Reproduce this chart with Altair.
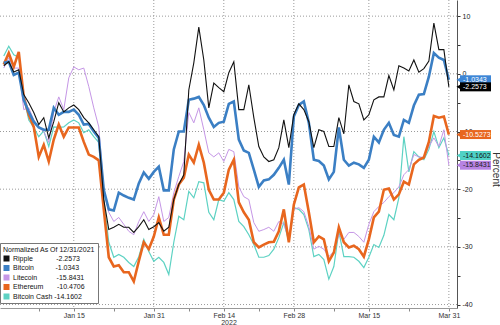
import altair as alt
import pandas as pd

# ---------------- data ----------------
dates = [d.strftime("%Y-%m-%dT00:00:00Z") for d in pd.date_range("2022-01-01", "2022-03-31", freq="D")]

series_names = ["Ripple", "Bitcoin", "Litecoin", "Ethereum", "Bitcoin Cash"]
series_colors = ["#111111", "#3b7fc4", "#c596e6", "#e8661e", "#5dd2c3"]
series_widths = [1.1, 2.6, 1.0, 2.6, 1.2]
legend_values = ["-2.2573", "-1.0343", "-15.8431", "-10.4706", "-14.1602"]
legend_gaps = [12, 11, 10, 7, 1]

ripple = [1.4, 2.1, 0.3, 0.7, -3.6, -5.0, -6.7, -8.8, -7.6, -11.1,
          -8.3, -5.0, -6.6, -5.9, -5.4, -6.2, -7.6, -8.5, -9.7, -10.9,
          -21.8, -27.0, -26.6, -26.1, -26.6, -26.6, -27.5, -26.5, -25.3, -27.0,
          -26.5, -25.8, -27.3, -26.6, -21.8, -19.2, -17.5, -2.8, 1.9, 8.1,
          2.4, -5.9, -1.6, -2.4, -3.1, 0.2, 2.1, -6.2, -6.2, -1.9,
          -7.6, -12.6, -14.4, -15.2, -14.9, -12.8, -8.0, -12.8, -7.1, -5.2,
          -6.2, -8.3, -12.8, -9.7, -10.0, -12.6, -12.6, -7.6, -10.4, -1.9,
          -4.8, -5.2, -8.0, -7.1, -4.5, -4.0, -4.0, -0.3, -2.8, 1.4,
          1.0, 0.5, 2.4, 0.3, 0.9, 2.2, 8.8, 4.2, 4.2, -2.2573]
bitcoin = [1.9, 2.1, -0.2, 0.2, -4.5, -6.6, -8.3, -9.3, -9.7, -9.7,
           -5.9, -7.1, -6.6, -6.6, -6.2, -7.1, -8.8, -8.7, -10.0, -11.1,
           -20.1, -23.5, -23.7, -20.6, -21.1, -21.5, -21.8, -19.0, -17.1, -18.2,
           -17.0, -16.1, -20.2, -20.2, -13.1, -10.0, -10.0, -4.5, -4.3, -4.0,
           -5.4, -7.6, -9.2, -8.5, -8.3, -5.2, -4.8, -11.4, -13.3, -13.7,
           -16.6, -19.6, -18.5, -18.3, -17.5, -16.3, -14.9, -19.2, -7.4, -5.4,
           -4.8, -8.5, -14.9, -15.1, -15.9, -18.3, -17.0, -9.3, -14.9, -15.9,
           -15.4, -15.7, -16.3, -14.9, -10.9, -11.9, -9.7, -8.5, -10.6, -10.9,
           -8.0, -8.5, -5.5, -3.6, -3.5, -0.5, 3.6, 2.8, 2.4, -1.0343]
litecoin = [1.0, 2.8, 1.0, 1.0, -6.2, -5.9, -8.0, -9.3, -10.0, -11.9,
            -6.6, -4.0, -6.2, -0.7, 1.2, 0.7, 1.0, -2.2, -5.9, -9.2,
            -20.1, -24.0, -25.6, -24.9, -26.1, -27.3, -27.9, -25.6, -23.9, -25.6,
            -24.4, -21.3, -25.6, -24.9, -20.6, -17.8, -15.2, -6.7, -8.5, -5.9,
            -9.7, -13.7, -14.4, -13.7, -15.2, -13.1, -13.5, -19.6, -21.3, -21.8,
            -25.8, -27.3, -27.0, -26.6, -27.3, -25.6, -26.0, -28.7, -23.5, -23.2,
            -23.9, -26.5, -30.4, -29.9, -30.4, -31.7, -30.8, -27.9, -28.7, -27.5,
            -27.5, -28.2, -29.2, -26.1, -23.9, -23.0, -22.3, -21.3, -20.6, -19.6,
            -17.5, -16.6, -14.0, -14.4, -14.5, -12.6, -11.1, -12.6, -9.7, -15.8431]
ethereum = [1.6, 3.6, 1.2, 3.8, -4.0, -7.1, -9.2, -14.4, -12.3, -15.2,
            -11.4, -8.8, -10.9, -9.3, -9.3, -9.3, -11.8, -14.0, -14.4, -15.0,
            -23.5, -31.8, -33.4, -33.2, -34.4, -34.4, -36.0, -32.5, -29.2, -30.4,
            -28.2, -24.9, -27.9, -27.9, -21.8, -19.2, -18.0, -14.0, -15.4, -12.3,
            -15.4, -20.1, -21.8, -21.8, -20.6, -16.6, -14.9, -22.3, -24.0, -25.3,
            -29.2, -30.1, -29.6, -29.2, -29.1, -27.3, -23.5, -29.2, -22.7, -19.7,
            -19.2, -24.0, -29.2, -28.2, -28.7, -32.5, -31.0, -26.6, -29.2, -30.1,
            -29.8, -30.4, -31.7, -28.7, -24.9, -23.9, -20.1, -19.9, -21.8, -20.9,
            -18.7, -19.2, -15.7, -14.9, -14.5, -11.8, -7.3, -7.6, -7.4, -10.5273]
bitcoin_cash = [3.1, 4.8, 3.3, 2.9, -4.0, -8.0, -9.3, -10.9, -9.9, -12.6,
                -9.2, -9.3, -9.2, -8.5, -8.0, -8.5, -10.2, -9.7, -10.9, -11.9,
                -21.8, -29.2, -31.8, -31.3, -31.8, -32.7, -33.4, -31.7, -28.7, -30.8,
                -32.5, -31.8, -32.7, -34.8, -29.2, -24.7, -25.3, -20.4, -21.5, -18.7,
                -18.9, -24.0, -25.3, -21.8, -22.1, -20.6, -21.8, -25.6, -26.5, -27.9,
                -29.6, -31.8, -31.8, -31.5, -30.4, -28.4, -25.8, -29.1, -23.2, -23.5,
                -24.4, -27.0, -31.7, -31.3, -32.2, -35.6, -33.4, -27.3, -31.7, -31.7,
                -31.8, -32.5, -33.6, -31.8, -29.6, -30.1, -28.0, -24.4, -25.3, -21.5,
                -10.9, -17.0, -13.5, -14.4, -14.9, -13.1, -10.0, -12.8, -11.1, -14.1602]

series_values = {"Ripple": ripple, "Bitcoin": bitcoin, "Litecoin": litecoin,
                 "Ethereum": ethereum, "Bitcoin Cash": bitcoin_cash}
draw_order = ["Bitcoin Cash", "Litecoin", "Ethereum", "Bitcoin", "Ripple"]

tag_series = ["Bitcoin", "Ripple", "Ethereum", "Bitcoin Cash", "Litecoin"]
tag_values = [-1.0343, -2.2573, -10.5273, -14.1602, -15.8431]
tag_fills = ["#3d86d6", "#000000", "#e8661e", "#4fd1c5", "#b783e3"]
tag_text_colors = ["#ffffff", "#ffffff", "#ffffff", "#111111", "#222222"]

y_ticks = list(range(-40, 11, 5))
y_grid = list(range(-40, 11, 10))
x_ticks = [(1, 8), (1, 15), (1, 23), (1, 31), (2, 7), (2, 14), (2, 21), (2, 28),
           (3, 8), (3, 15), (3, 23), (3, 31)]
major_labels = ["Jan 15", "Jan 31", "Feb 14", "Feb 28", "Mar 15", "Mar 31"]
major_dates = ["2022-01-15T00:00:00Z", "2022-01-31T00:00:00Z", "2022-02-14T00:00:00Z",
               "2022-02-28T00:00:00Z", "2022-03-15T00:00:00Z", "2022-03-31T00:00:00Z"]

# ---------------- frames ----------------
rows = []
for name in series_names:
    for d, v in zip(dates, series_values[name]):
        rows.append({"date": d, "series": name, "value": v})
df = pd.DataFrame(rows)

FONT = "Liberation Sans"

x_label_expr = ("indexof([" + ",".join("'%s'" % m for m in major_labels) + "], utcFormat(datum.value, '%b %d')) >= 0"
                " ? utcFormat(datum.value, '%b %d') : ''")
X = alt.X("date:T",
          scale=alt.Scale(type="utc", domain=[alt.DateTime(year=2021, month=12, date=31, hours=6, utc=True),
                                              alt.DateTime(year=2022, month=4, date=1, hours=15, utc=True)]),
          axis=alt.Axis(orient="bottom",
                        values=[alt.DateTime(year=2022, month=m, date=d, utc=True) for m, d in x_ticks],
                        labelExpr=x_label_expr, grid=False, tickSize=3, labelPadding=0,
                        domainColor="#999999", tickColor="#888888", labelFontSize=7, labelColor="#333333",
                        title="2022", titleFontSize=7, titleFontWeight="normal", titleColor="#333333",
                        titleY=14, titleBaseline="middle"))

y_label_expr = "datum.value % 10 == 0 ? (datum.value < 0 ? '-' + abs(datum.value) : '' + datum.value) : ''"
Y = alt.Y("value:Q",
          scale=alt.Scale(domain=[-40.6, 12.8], nice=False, zero=False),
          axis=alt.Axis(orient="right", values=y_ticks, labelExpr=y_label_expr, grid=False,
                        tickSize=3, tickColor="#333333", domainColor="#555555", labelPadding=2,
                        labelFontSize=7, labelColor="#222222",
                        title="Percent", titleFontSize=10, titleFontWeight="normal", titleColor="#333333",
                        titleAngle=90, titleX=38, titleY=169, titleAlign="center", titleBaseline="middle"))

nbsp = "\u00a0"
legend_expr = ""
for n, v, g in zip(series_names, legend_values, legend_gaps):
    legend_expr += "datum.label == '%s' ? '%s%s%s' : " % (n, n, nbsp * g, v)
legend_expr += "datum.label"

COLOR = alt.Color("series:N",
                  scale=alt.Scale(domain=series_names, range=series_colors),
                  legend=alt.Legend(orient="none", legendX=0, legendY=243,
                                    title="Normalized As Of 12/31/2021", titleFontSize=7,
                                    titleFontWeight="normal", titleColor="#111111", titlePadding=2,
                                    labelFontSize=7, labelColor="#111111", labelExpr=legend_expr,
                                    labelLimit=200, labelOffset=3,
                                    symbolType="square", symbolSize=9, symbolStrokeWidth=3,
                                    clipHeight=7, rowPadding=1.5, padding=3,
                                    fillColor="white", strokeColor="#777777"))

layers = []
layers.append(alt.Chart(pd.DataFrame({"value": y_grid})).mark_rule(
    color="#9a9a9a", strokeWidth=1, strokeDash=[1, 2]).encode(y=Y))
layers.append(alt.Chart(pd.DataFrame({"date": major_dates})).mark_rule(
    color="#9a9a9a", strokeWidth=1, strokeDash=[1, 2]).encode(x=X))

for s in draw_order:
    w = series_widths[series_names.index(s)]
    layers.append(alt.Chart(df).transform_filter(alt.datum.series == s)
                  .mark_line(strokeWidth=w).encode(x=X, y=Y, color=COLOR))

for s, v, f, tc in zip(tag_series, tag_values, tag_fills, tag_text_colors):
    tdf = pd.DataFrame({"value": [v], "label": ["%.4f" % v]})
    base = alt.Chart(tdf)
    layers.append(base.mark_rule(color=f, strokeWidth=9).encode(
        x=alt.value(460), x2=alt.value(491), y=Y))
    layers.append(base.mark_point(shape="triangle-left", filled=True, size=22, color=f, opacity=1).encode(
        x=alt.value(458.5), y=Y))
    layers.append(base.mark_text(fontSize=7, align="left", baseline="middle", color=tc, font=FONT).encode(
        x=alt.value(463), y=Y, text="label:N"))

chart = alt.layer(*layers).properties(
    width=457, height=308,
    autosize=alt.AutoSizeParams(type="none"),
    padding={"left": 0, "top": 0, "right": 43, "bottom": 17},
).configure(font=FONT).configure_view(stroke=None)

chart.save("out.html", embed_options={"renderer": "svg", "actions": False})
